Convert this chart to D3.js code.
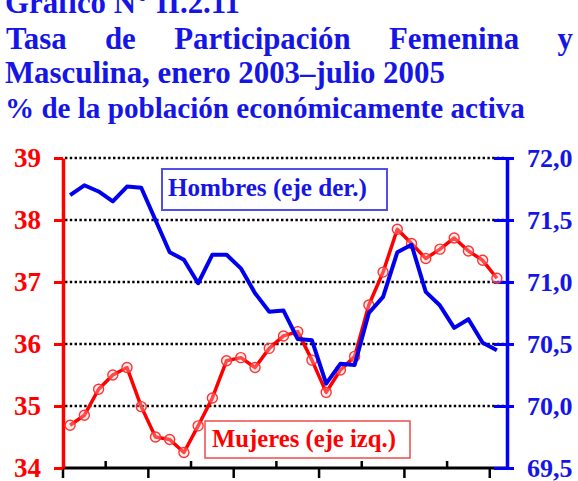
<!DOCTYPE html>
<html><head><meta charset="utf-8">
<script src="https://cdn.jsdelivr.net/npm/d3@7/dist/d3.min.js"></script>
<style>body{margin:0;background:#fff}svg{display:block}</style>
</head><body>
<svg id="c" width="578" height="481"></svg>
<script>
const months = ["2003-01","2003-02","2003-03","2003-04","2003-05","2003-06","2003-07","2003-08","2003-09","2003-10","2003-11","2003-12",
"2004-01","2004-02","2004-03","2004-04","2004-05","2004-06","2004-07","2004-08","2004-09","2004-10","2004-11","2004-12",
"2005-01","2005-02","2005-03","2005-04","2005-05","2005-06","2005-07"];
const mujeres = [34.69,34.85,35.27,35.50,35.62,34.99,34.50,34.46,34.25,34.68,35.13,35.73,35.78,35.62,35.93,36.13,36.20,35.74,35.22,35.58,35.80,36.63,37.16,37.85,37.62,37.38,37.53,37.71,37.50,37.35,37.06];
const hombres = [71.70,71.78,71.73,71.65,71.77,71.76,71.50,71.24,71.18,70.99,71.22,71.22,71.11,70.91,70.76,70.77,70.54,70.53,70.18,70.34,70.33,70.75,70.88,71.24,71.30,70.92,70.81,70.63,70.70,70.51,70.45];
const leftTicks = [34,35,36,37,38,39];
const rightTicks = [69.5,70.0,70.5,71.0,71.5,72.0];
const titleLines = ["Gráfico N° II.2.11","Tasa de Participación Femenina y","Masculina, enero 2003–julio 2005"];
const subtitle = "% de la población económicamente activa";
const legendH = "Hombres (eje der.)";
const legendM = "Mujeres (eje izq.)";

const BLUE = "#1515e6", RED = "#ff0000", FONT = "'Liberation Serif', 'DejaVu Serif', serif";
const svg = d3.select("#c");

function fitText(sel, target){
  const w = sel.node().getComputedTextLength();
  const fs = parseFloat(sel.attr("font-size"));
  sel.attr("font-size", fs*target/w);
  return fs*target/w;
}

// titles
const t1 = svg.append("text").attr("x",5).attr("y",13).attr("font-family",FONT).attr("font-weight","bold")
  .attr("font-size",28).attr("fill",BLUE).text(titleLines[0]);
fitText(t1, 235);
const t3 = svg.append("text").attr("x",5).attr("y",83).attr("font-family",FONT).attr("font-weight","bold")
  .attr("font-size",28).attr("fill",BLUE).text(titleLines[2]);
const fs3 = fitText(t3, 440);
// justified line 2
const words = titleLines[1].split(" ");
const g2 = svg.append("g");
const wsel = words.map(w => g2.append("text").attr("y",49).attr("font-family",FONT).attr("font-weight","bold")
  .attr("font-size",fs3).attr("fill",BLUE).text(w));
const widths = wsel.map(s => s.node().getComputedTextLength());
const total = d3.sum(widths), x0 = 6, x1 = 573;
const gap = (x1 - x0 - total)/(words.length-1);
let cx = x0;
wsel.forEach((s,i)=>{ s.attr("x",cx); cx += widths[i] + gap; });
const t4 = svg.append("text").attr("x",5).attr("y",118).attr("font-family",FONT).attr("font-weight","bold")
  .attr("font-size",24).attr("fill",BLUE).text(subtitle);
fitText(t4, 520);

// scales
const x = d3.scaleBand().domain(months).range([63,504]);
const xi = d3.scaleLinear().domain([0,months.length]).range([63,504]);
const yL = d3.scaleLinear().domain([34,39]).range([468,158]);
const yR = d3.scaleLinear().domain([69.5,72]).range([468,158]);
const AX_R = 507;

// gridlines
svg.append("g").selectAll("line").data(leftTicks.filter(d=>d>34)).join("line")
  .attr("x1",65).attr("x2",AX_R).attr("y1",d=>yL(d)).attr("y2",d=>yL(d))
  .attr("stroke","#000").attr("stroke-width",2.4).attr("stroke-dasharray","2.4 2.4");

// x axis
svg.append("line").attr("x1",62).attr("x2",AX_R).attr("y1",468).attr("y2",468).attr("stroke","#000").attr("stroke-width",3);
const downT = [0,6,12,18,24,30], upT = [3,9,15,21,27];
svg.append("g").selectAll("line").data(downT).join("line")
  .attr("x1",d=>xi(d)).attr("x2",d=>xi(d)).attr("y1",468).attr("y2",478).attr("stroke","#000").attr("stroke-width",2.5);
svg.append("g").selectAll("line").data(upT).join("line")
  .attr("x1",d=>xi(d)).attr("x2",d=>xi(d)).attr("y1",468).attr("y2",461).attr("stroke","#000").attr("stroke-width",2.5);

// left axis
const axL = svg.append("g").attr("transform","translate(63,0)")
  .call(d3.axisLeft(yL).tickValues(leftTicks).tickSize(9).tickSizeOuter(0).tickPadding(13).tickFormat(d3.format("d")));
axL.select(".domain").attr("stroke",RED).attr("stroke-width",3.5);
axL.selectAll(".tick line").attr("stroke",RED).attr("stroke-width",3);
axL.selectAll(".tick text").attr("fill",RED).attr("font-family",FONT).attr("font-weight","bold").attr("font-size",27);

// right axis
const axR = svg.append("g").attr("transform",`translate(${AX_R},0)`)
  .call(d3.axisRight(yR).tickValues(rightTicks).tickSize(7).tickSizeOuter(0).tickPadding(13).tickFormat(d=>d.toFixed(1).replace(".",",")));
axR.select(".domain").attr("stroke","#0000ff").attr("stroke-width",3.5);
axR.selectAll(".tick line").attr("x1",-13).attr("stroke","#0000ff").attr("stroke-width",3);
axR.selectAll(".tick text").attr("fill",BLUE).attr("font-family",FONT).attr("font-weight","bold").attr("font-size",26);

// series
const cxp = d => x(d) + x.bandwidth()/2;
const lineM = d3.line().x((d,i)=>cxp(months[i])).y(d=>yL(d));
const lineH = d3.line().x((d,i)=>cxp(months[i])).y(d=>yR(d));
svg.append("path").datum(mujeres).attr("d",lineM).attr("fill","none").attr("stroke",RED).attr("stroke-width",3.5).attr("stroke-linejoin","round");
svg.append("g").selectAll("circle").data(mujeres).join("circle")
  .attr("cx",(d,i)=>cxp(months[i])).attr("cy",d=>yL(d)).attr("r",5)
  .attr("fill","rgba(255,210,210,0.35)").attr("stroke","#f33").attr("stroke-width",1.4);
svg.append("path").datum(hombres).attr("d",lineH).attr("fill","none").attr("stroke","#0000ee").attr("stroke-width",4).attr("stroke-linejoin","round");

// legends
svg.append("rect").attr("x",162).attr("y",169).attr("width",225).attr("height",41)
  .attr("fill","#fff").attr("stroke","#5050e6").attr("stroke-width",2);
const lh = svg.append("text").attr("x",168).attr("y",196).attr("font-family",FONT).attr("font-weight","bold")
  .attr("font-size",22).attr("fill",BLUE).text(legendH);
fitText(lh, 199);
svg.append("rect").attr("x",205).attr("y",421).attr("width",205).attr("height",37)
  .attr("fill","#fff").attr("stroke","#f04a4a").attr("stroke-width",1.5);
const lm = svg.append("text").attr("x",212).attr("y",447).attr("font-family",FONT).attr("font-weight","bold")
  .attr("font-size",22).attr("fill",RED).text(legendM);
fitText(lm, 184);
</script>
</body></html>
